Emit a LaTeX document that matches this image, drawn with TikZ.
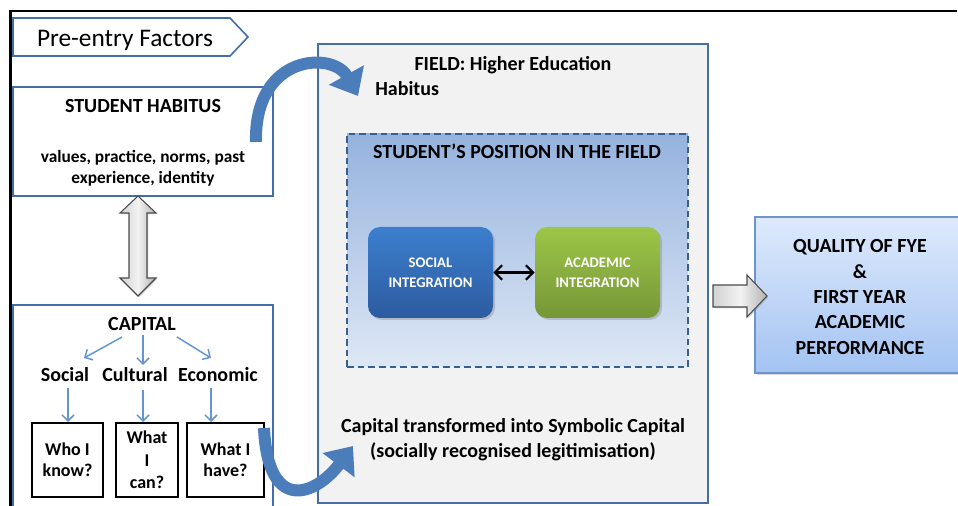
\documentclass[tikz,border=0pt]{standalone}
\usepackage{fontspec}
\setmainfont{Carlito}
\usetikzlibrary{arrows.meta,fit,shadows}

\definecolor{boxline}{RGB}{68,110,168}
\definecolor{fieldgrey}{RGB}{242,242,242}
\definecolor{posline}{RGB}{55,96,146}
\definecolor{postop}{RGB}{149,179,222}
\definecolor{posbottom}{RGB}{222,231,245}
\definecolor{soctop}{RGB}{60,126,205}
\definecolor{socbottom}{RGB}{45,92,160}
\definecolor{acatop}{RGB}{157,198,72}
\definecolor{acabottom}{RGB}{118,150,56}
\definecolor{qualtop}{RGB}{222,234,252}
\definecolor{qualbottom}{RGB}{163,195,242}
\definecolor{qualline}{RGB}{110,148,205}
\definecolor{ribbonblue}{RGB}{76,125,187}
\definecolor{capblue}{RGB}{100,148,210}

\tikzset{
  bluebox/.style={draw=boxline, line width=1.5pt, inner sep=0pt},
  blackbox/.style={draw=black, line width=1.5pt, inner sep=0pt},
  boxtext/.style={align=center, inner sep=0pt, font=\fontsize{13.5}{16}\selectfont\bfseries},
  headtext/.style={font=\fontsize{15}{19}\selectfont\bfseries, inner sep=0pt},
  intbox/.style={rounded corners=9pt, inner sep=0pt,
    drop shadow={opacity=0.35, shadow xshift=1.5pt, shadow yshift=-1.5pt}},
  inttext/.style={align=center, inner sep=0pt, text=white, font=\fontsize{11}{15}\selectfont\bfseries},
  greyarrow/.style={draw=black!70, line width=0.8pt, left color=black!18,
    right color=black!30, middle color=black!5,
    drop shadow={opacity=0.3, shadow xshift=1pt, shadow yshift=-1pt}},
  capline/.style={draw=capblue, line width=1.1pt, -{Straight Barb[length=4.5pt,width=9pt]}},
  ribbon/.style={draw=ribbonblue, line width=9pt, -{Triangle[length=18pt,width=29pt]}}
}

\begin{document}
\begin{tikzpicture}[x=0.75pt,y=-0.75pt]
\useasboundingbox (0,0) rectangle (958,506);

\node[bluebox, fill=fieldgrey, fit={(318,44) (708,503)}] (field) {};
\node[draw=posline, line width=1.5pt, dash pattern=on 5pt off 3pt, top color=postop,
  bottom color=posbottom, inner sep=0pt, fit={(347,134) (688,367)}] (pos) {};
\node[headtext, anchor=base] (fieldtitle) at (513,71) {FIELD: Higher Education};
\node[headtext, anchor=base west] (fhabitus) at (375,96) {Habitus};
\node[headtext, anchor=base] (postitle) at (517,159) {STUDENT’S POSITION IN THE FIELD};
\node[intbox, top color=soctop, bottom color=socbottom, fit={(368,227) (493,318)}] (social) {};
\node[inttext] at (social) {SOCIAL\\INTEGRATION};
\node[intbox, top color=acatop, bottom color=acabottom, fit={(535,227) (660,318)}] (academic) {};
\node[inttext] at (academic) {ACADEMIC\\INTEGRATION};
\draw[{Straight Barb[length=5.5pt,width=11pt]}-{Straight Barb[length=5.5pt,width=11pt]}, line width=1.6pt] (social) -- (academic);
\node[headtext, align=center, font=\fontsize{15}{18.75}\selectfont\bfseries] (symbolic) at (513,440)
  {Capital transformed into Symbolic Capital\\(socially recognised legitimisation)};

\node[draw=qualline, line width=1pt, top color=qualtop, bottom color=qualbottom, inner sep=0pt,
  drop shadow={opacity=0.3, shadow xshift=1.5pt, shadow yshift=-1.5pt}, fit={(755,217) (965,373)}] (quality) {};
\node[align=center, inner sep=0pt, font=\fontsize{15}{19.1}\selectfont\bfseries] (qualtext) at (860,297)
  {QUALITY OF FYE\\\&\\FIRST YEAR\\ACADEMIC\\PERFORMANCE};
\draw[greyarrow] (713,285) -- (747,285) -- (747,275) -- (767,296) -- (747,317) -- (747,307) -- (713,307) -- cycle;

\draw[draw=boxline, line width=1.2pt, fill=white] (13,18) -- (230,18) -- (248,37) -- (230,56) -- (13,56) -- cycle;
\node[font=\fontsize{19}{23}\selectfont, anchor=base, inner sep=0pt] (pre) at (125,47) {Pre-entry Factors};

\node[bluebox, fill=white, fit={(13,87) (273,196)}] (habitus) {};
\node[headtext, anchor=base] (habtitle) at (143,113) {STUDENT HABITUS};
\node[align=center, font=\fontsize{13}{15.75}\selectfont\bfseries, inner sep=0pt] (habtext) at (143,168)
  {values, practice, norms, past\\experience, identity};

\node[bluebox, fill=white, fit={(13,305) (273,515)}] (capital) {};
\node[headtext, anchor=base] (cap) at (142,331) {CAPITAL};
\node[headtext, anchor=base] (soc) at (65,382) {Social};
\node[headtext, anchor=base] (cul) at (135,382) {Cultural};
\node[headtext, anchor=base] (eco) at (218,382) {Economic};
\node[blackbox, fit={(32,423) (103,497)}] (who) {};
\node[boxtext] at (who) {Who I\\know?};
\node[blackbox, fit={(116,423) (178,497)}] (can) {};
\node[boxtext, font=\fontsize{13.5}{17}\selectfont\bfseries] at (can) {What\\I\\can?};
\node[blackbox, fit={(187,423) (264,497)}] (have) {};
\node[boxtext] at (have) {What I\\have?};
\draw[capline] (122,337) -- (84,358);
\draw[capline] (cap.south) ++(1,4) -- (143,365);
\draw[capline] (177,337) -- (211,358);
\draw[capline] (68,388) -- (who.north -| 68,0);
\draw[capline] (143,390) -- (can.north -| 143,0);
\draw[capline] (211,388) -- (have.north -| 211,0);

\draw[greyarrow] (138,196) -- (156,213) -- (147,213) -- (147,278) -- (156,278) -- (138,296)
  -- (120,278) -- (129,278) -- (129,213) -- (120,213) -- cycle;

\draw[line width=1.6pt] (10.5,515) -- (10.5,11) -- (957,11);

\coordinate (habout) at (256,142);
\coordinate (habin) at (358,96);
\coordinate (capout) at (264,428);
\coordinate (capin) at (353,446);
\draw[ribbon] (habout) .. controls +(-2,-88) and +(-25,-45) .. (habin);
\draw[ribbon] (capout) .. controls +(4,87) and +(-37,49) .. (capin);
\end{tikzpicture}
\end{document}
